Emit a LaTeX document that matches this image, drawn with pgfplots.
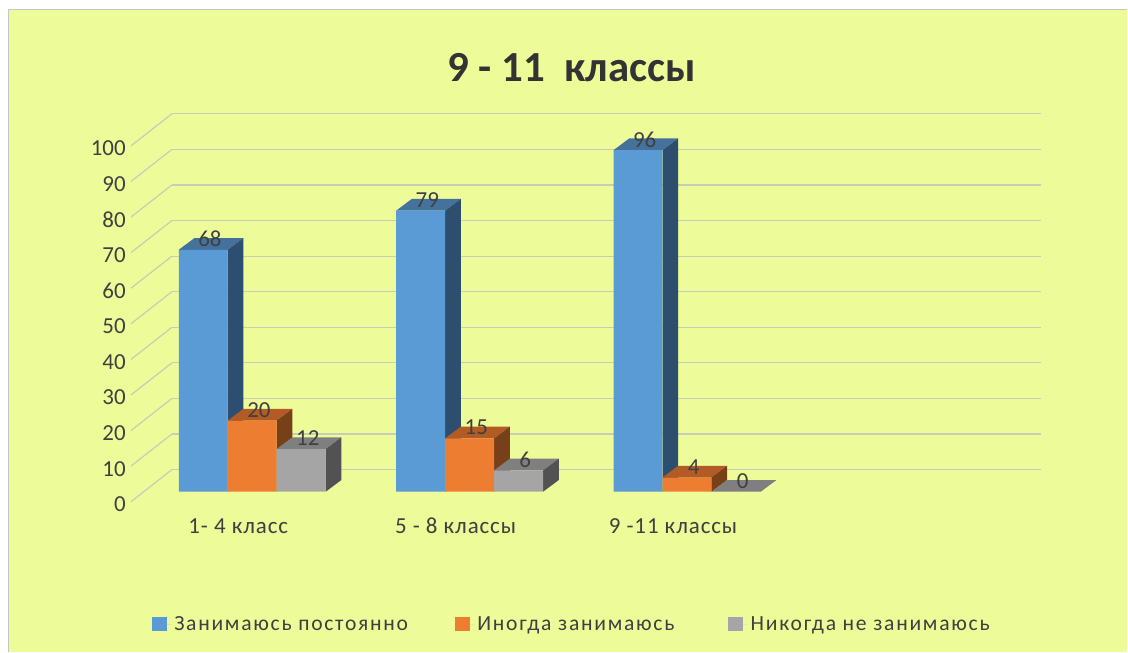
\documentclass[border=0pt]{standalone}
\usepackage{fontspec}
\setmainfont{Carlito}
\usepackage{pgfplots}
\pgfplotsset{compat=1.18}

% 1 px of the reference = 0.75pt here
\definecolor{panel}{HTML}{EDFC99}
\definecolor{frameline}{HTML}{C6C6C6}
\definecolor{wall}{HTML}{C9CCB6}
\definecolor{txt}{HTML}{404040}
\definecolor{blueF}{HTML}{5B9BD5}
\definecolor{blueT}{HTML}{44729D}
\definecolor{blueS}{HTML}{2E4E70}
\definecolor{orangeF}{HTML}{ED7D31}
\definecolor{orangeT}{HTML}{B25B24}
\definecolor{orangeS}{HTML}{784018}
\definecolor{greyF}{HTML}{A5A5A5}
\definecolor{greyT}{HTML}{7F7F7F}
\definecolor{greyS}{HTML}{525252}

\newcommand{\tickfont}{\fontsize{17.2pt}{20pt}\selectfont}
\newcommand{\catfont}{\fontsize{17.2pt}{20pt}\selectfont\addfontfeatures{LetterSpace=4}}
\newcommand{\legfont}{\fontsize{16.2pt}{19pt}\selectfont\addfontfeatures{LetterSpace=8}}

% top and side faces of one bar: category, shift, value, top colour, side colour
\newcommand{\barfaces}[5]{%
  \pgfmathsetmacro\xa{#1+#2-0.11265}%
  \pgfmathsetmacro\xb{#1+#2+0.11265}%
  \pgfmathsetmacro\xc{\xb+0.0722}%
  \pgfmathsetmacro\xd{\xa+0.0722}%
  \pgfmathsetmacro\yt{#3+3.29}%
  \addplot[fill=#4,draw=none,forget plot] coordinates {(\xa,#3) (\xb,#3) (\xc,\yt) (\xd,\yt)} --cycle;
  \addplot[fill=#5,draw=none,forget plot] coordinates {(\xb,0) (\xc,3.29) (\xc,\yt) (\xb,#3)} --cycle;
}

\pgfplotsset{
  front/.style={ybar, bar width=0.2253, bar shift=#1, draw=none, nodes near coords,
    legend image code/.code={\fill[##1,draw=none] (0pt,-5.5pt) rectangle (11.25pt,5.5pt);
      \path (0pt,0pt) -- (15pt,0pt);}},
}

\begin{document}
\begin{tikzpicture}
\fill[white] (0,0) rectangle (846pt,489pt);
\fill[panel] (6.5pt,0) rectangle (846pt,481.5pt);
\draw[frameline,line width=0.9pt] (6.4pt,0) -- (6.4pt,481.7pt) -- (846pt,481.7pt);
\begin{axis}[
  at={(107.7pt,120pt)}, anchor=south west,
  scale only axis, width=652.5pt, height=267pt,
  xmin=-0.5, xmax=3.5, ymin=0, ymax=100,
  clip=false,
  axis line style={draw=none},
  major tick length=0pt,
  /pgf/number format/assume math mode=true,
  ytick={0,10,...,100},
  xtick={0,1,2},
  xticklabels={1- 4 класс, 5 - 8 классы, 9 -11 классы},
  ymajorgrids,
  major grid style={draw=wall,line width=0.9pt,xshift=21.3pt,yshift=16.6pt},
  y tick label style={font=\tickfont,text=txt,anchor=east,inner sep=0pt,xshift=-13.2pt,yshift=-9.4pt},
  x tick label style={font=\catfont,text=txt,anchor=base,xshift=-10.5pt,yshift=-31.5pt},
  every node near coord/.append style={font=\tickfont,text=txt,anchor=center,xshift=5pt,yshift=8pt},
  title={9 - 11\ \ классы},
  title style={font=\fontsize{32.2pt}{38pt}\selectfont\bfseries,text=black!80,anchor=center,at={(axis description cs:0.4924,1.169)}},
  legend columns=3,
  legend style={at={(axis description cs:0.4927,-0.372)},anchor=center,draw=none,fill=none,
    font=\legfont,text=txt,inner sep=0pt,
    /tikz/every even column/.append style={column sep=33pt}},
]
% left wall lines
\pgfplotsinvokeforeach{0,10,...,100}{
  \draw[wall,line width=0.9pt] (axis cs:-0.5,#1) ++(-9.45pt,-7.5pt) -- ++(30.75pt,24.1pt);
}
\barfaces{0}{-0.2253}{68}{blueT}{blueS}
\barfaces{1}{-0.2253}{79}{blueT}{blueS}
\barfaces{2}{-0.2253}{96}{blueT}{blueS}
\addplot[front=-0.2253,fill=blueF,every node near coord/.append style={xshift=-36.75pt}] coordinates {(0,68) (1,79) (2,96)};
\addlegendentry{Занимаюсь постоянно}
\barfaces{0}{0}{20}{orangeT}{orangeS}
\barfaces{1}{0}{15}{orangeT}{orangeS}
\barfaces{2}{0}{4}{orangeT}{orangeS}
\addplot[front=0,fill=orangeF] coordinates {(0,20) (1,15) (2,4)};
\addlegendentry{Иногда занимаюсь\rule{5.25pt}{0pt}}
\barfaces{0}{0.2253}{12}{greyT}{greyS}
\barfaces{1}{0.2253}{6}{greyT}{greyS}
\barfaces{2}{0.2253}{0}{greyT}{greyS}
\addplot[front=0.2253,fill=greyF,every node near coord/.append style={xshift=36.75pt}] coordinates {(0,12) (1,6) (2,0)};
\addlegendentry{Никогда не занимаюсь}
\end{axis}
\end{tikzpicture}
\end{document}
